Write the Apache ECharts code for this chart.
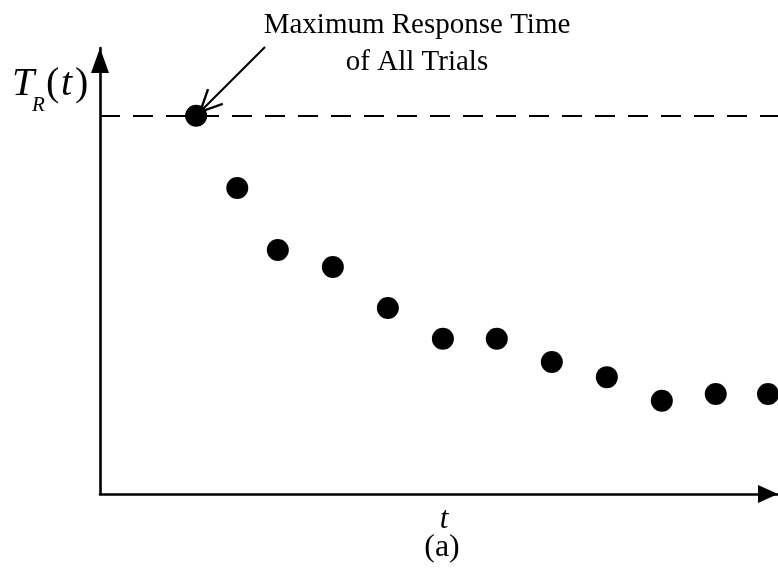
<!DOCTYPE html>
<html>
<head>
<meta charset="utf-8">
<script src="https://cdn.jsdelivr.net/npm/echarts@6/dist/echarts.min.js"></script>
<style>
  html, body { margin: 0; padding: 0; background: #fff; }
  #chart { width: 778px; height: 583px; }
</style>
</head>
<body>
<div id="chart"></div>
<script>
// Response time per trial
const trialTimes = [1.73, 2.47, 3.20, 4.19, 5.18, 6.17, 7.14, 8.13, 9.12, 10.11, 11.08, 12.02];
const responseTimes = [8.48, 6.86, 5.47, 5.09, 4.17, 3.48, 3.48, 2.96, 2.62, 2.09, 2.24, 2.24];
const maxResponse = 8.48;
const annotationLines = ['Maximum Response Time', 'of All Trials'];

const SERIF = '"Liberation Serif", "Times New Roman", serif';

const chart = echarts.init(document.getElementById('chart'), null, { renderer: 'canvas' });

const points = trialTimes.map((t, i) => [t, responseTimes[i]]);

chart.setOption({
  animation: false,
  backgroundColor: '#fff',
  grid: { left: 100, right: 0, top: 48, bottom: 89, containLabel: false },
  xAxis: {
    type: 'value', min: 0, max: 12.2,
    axisLine: {
      show: true, onZero: false,
      lineStyle: { color: '#000', width: 2.6 },
      symbol: ['none', 'triangle'], symbolSize: [18, 20], symbolOffset: [0, -10]
    },
    axisTick: { show: false }, axisLabel: { show: false }, splitLine: { show: false }
  },
  yAxis: {
    type: 'value', min: 0, max: 10,
    axisLine: {
      show: true, onZero: false,
      lineStyle: { color: '#000', width: 2.6 },
      symbol: ['none', 'triangle'], symbolSize: [18, 25], symbolOffset: [0, -12.5]
    },
    axisTick: { show: false }, axisLabel: { show: false }, splitLine: { show: false }
  },
  series: [{
    type: 'scatter',
    data: points,
    symbol: 'circle',
    symbolSize: 22,
    clip: false,
    itemStyle: { color: '#000', opacity: 1 },
    emphasis: { disabled: true },
    z: 5,
    markLine: {
      silent: true,
      symbol: ['none', 'none'],
      label: { show: false },
      lineStyle: { color: '#000', width: 2.2, type: [20, 13], opacity: 1 },
      data: [{ yAxis: maxResponse }]
    }
  }]
});

// Annotation arrow pointing at the first (maximum) trial
const peak = chart.convertToPixel({ seriesIndex: 0 }, points[0]);
const tip = [peak[0] + 4, peak[1] - 4];
const tail = [265, 47];
const ang = Math.atan2(tail[1] - tip[1], tail[0] - tip[0]);
const headLen = 24, spread = 0.45;
const h1 = [tip[0] + headLen * Math.cos(ang - spread), tip[1] + headLen * Math.sin(ang - spread)];
const h2 = [tip[0] + headLen * Math.cos(ang + spread), tip[1] + headLen * Math.sin(ang + spread)];

const txt = (x, y, text, font, align) => ({
  type: 'text', x, y,
  style: { text, font, fill: '#000', textAlign: align || 'left', textVerticalAlign: 'top' }
});

chart.setOption({
  graphic: [
    { type: 'line', shape: { x1: tail[0], y1: tail[1], x2: tip[0], y2: tip[1] },
      style: { stroke: '#000', lineWidth: 2 }, z: 10 },
    { type: 'polyline', shape: { points: [h1, tip, h2] },
      style: { stroke: '#000', lineWidth: 2.4, fill: null }, z: 10 },
    txt(417, 11, annotationLines[0], '29px ' + SERIF, 'center'),
    txt(417, 48, annotationLines[1], '29px ' + SERIF, 'center'),
    // y-axis name T_R(t)
    txt(12, 64, 'T', 'italic 40px ' + SERIF),
    txt(32, 95, 'R', 'italic 21px ' + SERIF),
    txt(46, 64, '(', '40px ' + SERIF),
    txt(61, 64, 't', 'italic 40px ' + SERIF),
    txt(75, 64, ')', '40px ' + SERIF),
    // x-axis name and panel label
    txt(444, 504, 't', 'italic 31px ' + SERIF, 'center'),
    txt(442, 532, '(a)', '32px ' + SERIF, 'center')
  ]
});
</script>
</body>
</html>
